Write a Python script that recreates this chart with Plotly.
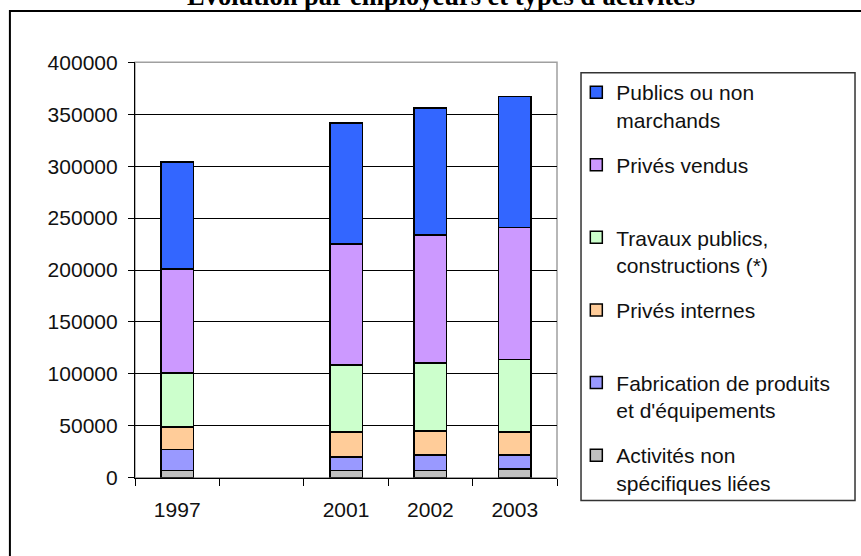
import plotly.graph_objects as go

# ---- data ----
years = ["1997", " ", "2001", "2002", "2003"]
series_names = [
    "Activités non<br>spécifiques liées",
    "Fabrication de produits<br>et d'équipements",
    "Privés internes<br> ",
    "Travaux publics,<br>constructions (*)",
    "Privés vendus<br> ",
    "Publics ou non<br>marchands",
]
activites = [7000, None, 7000, 7000, 8500]
fabrication = [20000, None, 13000, 15000, 13500]
prives_internes = [22000, None, 24000, 23000, 22000]
travaux = [52000, None, 64500, 65500, 70000]
prives_vendus = [100000, None, 116500, 123000, 127000]
publics = [103000, None, 116500, 122500, 126000]
series_values = [activites, fabrication, prives_internes, travaux, prives_vendus, publics]
colors = ["#C0C0C0", "#9999FF", "#FFCC99", "#CCFFCC", "#CC99FF", "#3366FF"]
y_ticks = [0, 50000, 100000, 150000, 200000, 250000, 300000, 350000, 400000]
title_text = "Évolution par employeurs et types d'activités"

W, H = 861, 556
L, R = 135, 556.7          # x axis pixel extent
AX_T, AX_B = 62.3, 477.7   # y axis pixel extent
GS_T, GS_B = 20, 536       # plotting area (margins) - larger, so legend can be tall
pw, gh = R - L, GS_B - GS_T

def px_x(x):
    return (x - L) / pw

def px_y(y):
    return (GS_B - y) / gh

fig = go.Figure()
n = len(series_names)
for i, (name, vals, col) in enumerate(zip(series_names, series_values, colors)):
    fig.add_trace(go.Bar(
        x=years, y=vals, name=name, legendgroup=str(i), legendrank=n - i,
        marker=dict(color=col, line=dict(color="#000000", width=1.5)),
    ))

font_main = "Liberation Sans, Arial, sans-serif"

fig.update_layout(
    width=W, height=H,
    margin=dict(l=L, r=W - R, t=GS_T, b=H - GS_B, pad=0, autoexpand=False),
    barmode="stack", bargap=0.615,
    paper_bgcolor="white", plot_bgcolor="white",
    font=dict(family=font_main, size=21, color="#111111"),
    showlegend=True,
    legend=dict(
        x=px_x(576), y=px_y(72), xanchor="left", yanchor="top",
        traceorder="grouped", tracegroupgap=15,
        valign="top", bgcolor="rgba(0,0,0,0)", borderwidth=0,
        font=dict(family=font_main, size=21, color="#111111"),
    ),
    xaxis=dict(
        type="category", categoryorder="array", categoryarray=years,
        range=[-0.5, 4.5], tickson="boundaries", anchor="y",
        showline=True, linecolor="#000000", linewidth=1.2,
        ticks="outside", ticklen=7, tickcolor="#000000", tickwidth=1.2,
        showgrid=False, ticklabelstandoff=13,
        tickfont=dict(family=font_main, size=21, color="#111111"),
    ),
    yaxis=dict(
        domain=[px_y(AX_B), px_y(AX_T)],
        range=[0, 400000], tickvals=y_ticks, ticktext=[str(v) for v in y_ticks],
        showline=True, linecolor="#000000", linewidth=1.2,
        ticks="outside", ticklen=6, tickcolor="#000000", tickwidth=1.2,
        showgrid=True, gridcolor="#000000", gridwidth=1,
        zeroline=False, ticklabelstandoff=6,
        tickfont=dict(family=font_main, size=21, color="#111111"),
    ),
    shapes=[
        # plot area border
        dict(type="rect", xref="paper", yref="paper",
             x0=0, x1=1, y0=px_y(AX_B), y1=px_y(AX_T),
             line=dict(color="#A0A0A0", width=1.5), layer="below"),
        # legend box
        dict(type="rect", xref="paper", yref="paper",
             x0=px_x(580.7), x1=px_x(854.5), y0=px_y(500.5), y1=px_y(72.7),
             line=dict(color="#333333", width=1.5), layer="above"),
        # outer chart frame
        dict(type="rect", xref="paper", yref="paper",
             x0=px_x(10), x1=px_x(880), y0=px_y(580), y1=px_y(11),
             line=dict(color="#000000", width=2), layer="above"),
    ],
    annotations=[
        dict(text="<b>" + title_text + "</b>", xref="paper", yref="paper",
             x=px_x(441), y=px_y(-4), xanchor="center", yanchor="middle",
             showarrow=False,
             font=dict(family="Liberation Serif, Times New Roman, serif", size=26.5, color="#000000")),
    ],
)

fig.write_html("out.html")
